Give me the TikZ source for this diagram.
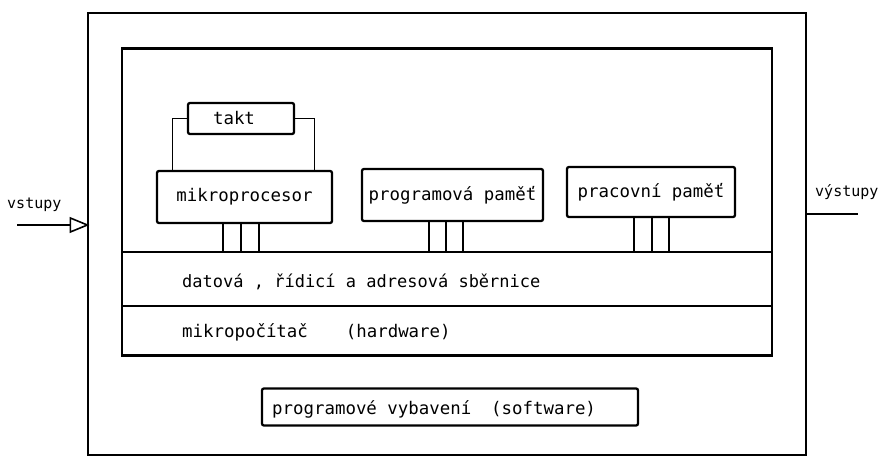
\documentclass[tikz,border=0pt]{standalone}
\usepackage{fontspec}
\setmonofont{DejaVu Sans Mono}
\usetikzlibrary{arrows.meta}
\begin{document}
\begin{tikzpicture}[x=1pt,y=-1pt,
  font=\ttfamily\fontsize{17.4}{19}\selectfont,
  frame/.style={draw,line width=1.3pt,inner sep=0pt},
  panel/.style={draw,line width=2.2pt,inner sep=0pt},
  unit/.style={draw,line width=2.3pt,rounded corners=2pt,inner sep=0pt},
  band/.style={draw,line width=1.6pt,inner sep=0pt},
  wire/.style={line width=1.1pt},
  busline/.style={line width=1.2pt},
  label/.style={inner sep=0pt,anchor=base west}]
\useasboundingbox (0,0) rectangle (886,457);

% system frame and microcomputer panel
\node[frame,minimum width=718pt,minimum height=442pt] (sys) at (447,234) {};
\node[panel,minimum width=650pt,minimum height=307pt] (hw) at (447,202) {};

% bus band and hardware band
\node[band,minimum width=650pt,minimum height=54pt] (bus) at (447,279) {};
\node[band,minimum width=650pt,minimum height=50pt] (hwband) at (447,331) {};
\node[label,font=\ttfamily\fontsize{17}{19}\selectfont] (buslbl) at (182,287) {datová , řídicí a adresová sběrnice};
\node[label] (hwlbl) at (182,337) {mikropočítač\hspace{38pt}(hardware)};

% functional units
\node[unit,minimum width=106pt,minimum height=31pt] (takt) at (241,118.5) {};
\node[inner sep=0pt] (taktlbl) at (234,118) {takt};
\node[unit,minimum width=175pt,minimum height=52pt] (cpu) at (244.5,197) {mikroprocesor};
\node[unit,minimum width=181pt,minimum height=52pt] (rom) at (452.5,195) {programová paměť};
\node[unit,minimum width=168pt,minimum height=50pt] (ram) at (651,192) {pracovní paměť};

% clock connections
\draw[wire] (takt.west) -| ([xshift=17pt]cpu.north west);
\draw[wire] (takt.east) -| ([xshift=-19pt]cpu.north east);

% bus taps
\foreach \n/\d in {a/-21.5,b/-3.5,c/14.5}{
  \coordinate (cpu\n) at ([xshift=\d pt]cpu.south);
  \draw[busline] (cpu\n) -- (cpu\n |- bus.north);
}
\foreach \n/\d in {a/-23.5,b/-6.5,c/10.5}{
  \coordinate (rom\n) at ([xshift=\d pt]rom.south);
  \draw[busline] (rom\n) -- (rom\n |- bus.north);
}
\foreach \n/\d in {a/-17,b/1,c/18}{
  \coordinate (ram\n) at ([xshift=\d pt]ram.south);
  \draw[busline] (ram\n) -- (ram\n |- bus.north);
}

% software
\node[unit,minimum width=376pt,minimum height=37pt] (sw) at (450,407) {};
\node[label] (swlbl) at (272,414) {programové vybavení\hspace{20pt}(software)};

% inputs and outputs
\coordinate (inend) at (17,225);
\coordinate (inhit) at (sys.west |- inend);
\draw[line width=2pt] (inend) -- ([xshift=-16pt]inhit);
\draw[line width=1.6pt] ([xshift=-17pt,yshift=-7pt]inhit) -- (inhit) -- ([xshift=-17pt,yshift=7pt]inhit) -- cycle;
\node[label,font=\ttfamily\fontsize{15}{16}\selectfont] (inlbl) at (7,208) {vstupy};

\coordinate (outstart) at (sys.east |- 0,214);
\coordinate (outend) at (858,214);
\draw[line width=1.8pt] (outstart) -- (outend);
\node[label,font=\ttfamily\fontsize{15}{16}\selectfont] (outlbl) at (815,197) {výstupy};
\end{tikzpicture}
\end{document}
